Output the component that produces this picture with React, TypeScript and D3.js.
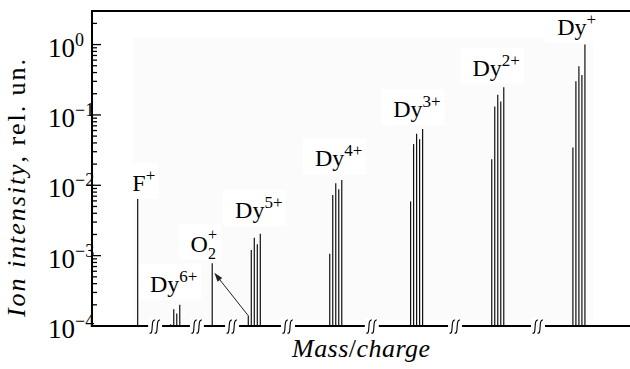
import React from 'react';
import * as d3 from 'd3';

const W = 630;
const H = 369;
const M = { left: 92, right: 630, top: 11, bottom: 326 };

// peak groups along the broken mass/charge axis (x in isotope-step units)
const groupStart = [15.2, 26.2, 40.0, 52.0, 79.1, 106.0, 133.0, 160.0];
const groupValues = [
  [0.0064],
  [1.06e-4, 1.73e-4, 1.5e-4, 2.0e-4],
  [7.8e-4],
  [1.4e-4, 1.2e-3, 1.8e-3, 1.45e-3, 2.04e-3],
  [1.06e-3, 7.3e-3, 1.07e-2, 8.8e-3, 1.19e-2],
  [5.9e-3, 0.0385, 0.054, 0.045, 0.063],
  [0.0235, 0.132, 0.193, 0.155, 0.248],
  [0.0344, 0.3, 0.49, 0.37, 1.0],
];
const labelBase = ['F', 'Dy', 'O', 'Dy', 'Dy', 'Dy', 'Dy', 'Dy'];
const labelSup = ['+', '6+', '+', '5+', '4+', '3+', '2+', '+'];
const labelSub = ['', '', '2', '', '', '', '', ''];
const labelX = [13.4, 19.3, 32.8, 47.6, 74.2, 100.2, 126.6, 154.8];
const labelY = [8.3e-3, 3.08e-4, 1.14e-3, 3.47e-3, 1.85e-2, 9.3e-2, 0.36, 1.38];

const breaks = [21.0, 34.9, 46.6, 65.2, 93.1, 120.8, 148.4];
const yTicks = [1e-4, 1e-3, 1e-2, 1e-1, 1];
const yTickExp = ['\u22124', '\u22123', '\u22122', '\u22121', '0'];

// arrow from the small Dy5+ peak to the O2+ peak
const arrowFrom = { x: 52.0, v: 1.4e-4 };
const arrowTo = { x: 40.7, v: 5.7e-4 };

const x = d3.scaleLinear().domain([0, 179]).range([M.left, M.right]);
const y = d3.scaleLog().domain([1e-4, 3]).range([M.bottom, M.top]);

const minorTicks: number[] = [];
for (let e = -4; e <= 0; e++) {
  for (let k = 2; k <= 9; k++) {
    const v = k * Math.pow(10, e);
    if (v < 3) minorTicks.push(v);
  }
}

const baseW: Record<string, number> = { F: 13.3, Dy: 29.3, O: 17.3 };

const tf = { fontFamily: "'Liberation Serif'" };

export default function App() {
  const ax = x(arrowTo.x);
  const ay = y(arrowTo.v);
  const tx = x(arrowFrom.x);
  const ty = y(arrowFrom.v);
  const ang = Math.atan2(ay - ty, ax - tx);
  const hl = 9;
  const hw = 3;
  const head = [
    [ax, ay],
    [ax - hl * Math.cos(ang) + hw * Math.sin(ang), ay - hl * Math.sin(ang) - hw * Math.cos(ang)],
    [ax - hl * Math.cos(ang) - hw * Math.sin(ang), ay - hl * Math.sin(ang) + hw * Math.cos(ang)],
  ];

  return (
    <svg width={W} height={H} style={{ position: 'absolute', left: 0, top: 0 }}>
      <rect width={W} height={H} fill="#fff" />
      <rect x={133} y={38} width={460} height={282} fill="#fbfbfb" />

      {/* white boxes behind labels */}
      {labelBase.map((b, i) => {
        const w = baseW[b] + labelSup[i].length * 9;
        return (
          <rect
            key={'lb' + i}
            x={x(labelX[i]) - 12}
            y={y(labelY[i]) - 28}
            width={w + 16}
            height={36}
            fill="#fff"
          />
        );
      })}

      {/* peaks */}
      <g stroke="#111" strokeWidth={1.2}>
        {groupValues.map((vals, gi) =>
          vals.map((v, k) => (
            <line
              key={gi + '-' + k}
              x1={x(groupStart[gi] + k)}
              x2={x(groupStart[gi] + k)}
              y1={y(1e-4)}
              y2={y(v)}
            />
          ))
        )}
      </g>

      {/* arrow */}
      <line x1={tx} y1={ty} x2={ax - 6 * Math.cos(ang)} y2={ay - 6 * Math.sin(ang)} stroke="#222" strokeWidth={1} />
      <polygon points={head.map((p) => p.join(',')).join(' ')} fill="#222" />

      {/* frame */}
      <g stroke="#000" strokeWidth={2} fill="none">
        <line x1={M.left} x2={M.right} y1={M.top} y2={M.top} />
        <line x1={M.left} x2={M.left} y1={M.top - 1} y2={M.bottom + 1} />
        <line x1={M.left} x2={M.right} y1={M.bottom} y2={M.bottom} />
      </g>

      {/* y ticks */}
      <g stroke="#000" strokeWidth={1.3}>
        {yTicks.map((t) => (
          <line key={'M' + t} x1={M.left} x2={M.left + 9} y1={y(t)} y2={y(t)} />
        ))}
        {minorTicks.map((t) => (
          <line key={'m' + t} x1={M.left} x2={M.left + 5} y1={y(t)} y2={y(t)} />
        ))}
      </g>
      {yTicks.map((t, i) => (
        <text key={'tl' + t} x={48} y={y(t) + 12} fontSize={27} fill="#000" style={tf}>
          10
          <tspan fontSize={18} dy={-11}>
            {yTickExp[i]}
          </tspan>
        </text>
      ))}

      {/* axis breaks */}
      {breaks.map((b) => {
        const cx = x(b);
        const s = (ox: number) =>
          `M${ox - 3},${M.bottom + 7} C${ox + 1.5},${M.bottom + 9} ${ox - 2.5},${M.bottom - 7} ${ox + 2.5},${M.bottom - 6}`;
        return (
          <g key={'br' + b}>
            <rect x={cx - 7} y={M.bottom - 8} width={14} height={18} fill="#fff" />
            <path d={s(cx - 2.5)} stroke="#000" strokeWidth={1.1} fill="none" />
            <path d={s(cx + 2.5)} stroke="#000" strokeWidth={1.1} fill="none" />
          </g>
        );
      })}

      {/* peak labels */}
      {labelBase.map((b, i) => {
        const lx = x(labelX[i]);
        const ly = y(labelY[i]);
        if (labelSub[i]) {
          const ex = lx + baseW[b];
          return (
            <g key={'l' + i} fill="#000" style={tf}>
              <text x={lx} y={ly} fontSize={24}>{b}</text>
              <text x={ex} y={ly - 12} fontSize={16}>{labelSup[i]}</text>
              <text x={ex} y={ly + 7} fontSize={16}>{labelSub[i]}</text>
            </g>
          );
        }
        return (
          <text key={'l' + i} x={lx} y={ly} fontSize={24} fill="#000" style={tf}>
            {b}
            <tspan fontSize={17} dy={-10}>
              {labelSup[i]}
            </tspan>
          </text>
        );
      })}

      {/* axis titles */}
      <text
        transform={`translate(25,188) rotate(-90)`}
        textAnchor="middle"
        fontSize={26}
        fill="#000"
        style={tf}
        textLength={258}
        lengthAdjust="spacing"
      >
        <tspan fontStyle="italic">Ion intensity</tspan>, rel. un.
      </text>
      <text x={361} y={357} textAnchor="middle" fontSize={26} fill="#000" style={tf} textLength={138} lengthAdjust="spacing">
        <tspan fontStyle="italic">Mass</tspan>/<tspan fontStyle="italic">charge</tspan>
      </text>
    </svg>
  );
}
